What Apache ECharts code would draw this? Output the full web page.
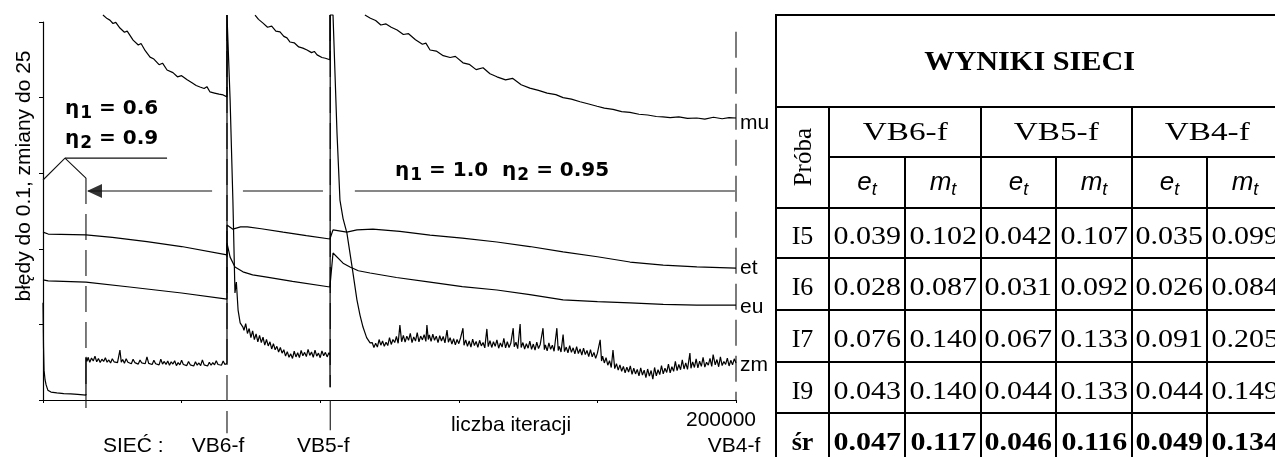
<!DOCTYPE html>
<html><head><meta charset="utf-8">
<script src="https://cdn.jsdelivr.net/npm/echarts@6/dist/echarts.min.js"></script>
<style>
html,body{margin:0;padding:0;background:#fff;overflow:hidden;width:1275px;height:457px}
#chart{position:absolute;left:0;top:0;width:1275px;height:457px}
#tbl{position:absolute;left:0;top:0;width:1275px;height:457px;overflow:hidden;pointer-events:none}
.cell{position:absolute;box-sizing:border-box;border:2px solid #000;display:flex;align-items:center;justify-content:center;font-family:"Liberation Serif","Times New Roman",serif;color:#000;white-space:nowrap}
.cell span{display:inline-block}
</style></head><body>
<div id="chart"></div>
<div id="tbl"></div>
<script>
// ---------------- data ----------------
const xTickValues = [0, 40000, 80000, 120000, 160000, 200000];
const xTickLabels = ['', '', '', '', '', '200000'];
const networkLabels = ['VB6-f', 'VB5-f', 'VB4-f'];
const networkSwitchX = [53100, 82900, 200000];

const mu = [
 [17300,101.85],[18500,100.9],[19300,100.5],[20200,99.6],[21000,99.9],[22200,98.4],[23500,97.3],[24300,97.6],
 [26000,95.2],[27500,93.9],[28300,94.3],[29500,92.4],[30900,90.7],[32000,90.2],[33500,88.7],[34500,89.1],
 [35800,87.3],[37500,86.6],[38800,85.5],[40000,85.8],[41600,84.7],[43000,83.9],[44200,83.2],[45300,82.8],
 [46500,82.4],[47300,82.9],[48200,81.5],[49500,81.2],[50800,80.9],[52000,80.7],[53100,80.2],[53100,101.85],
 [53150,null],
 [61200,101.85],[62200,100.7],[63500,99.7],[64800,98.6],[66000,98.9],[67200,97.6],[68400,97.4],[69500,96.2],
 [70400,95.8],[71300,94.7],[72500,94.5],[73800,93.4],[75000,93.1],[76200,92.6],[77500,91.9],[78300,92.2],
 [79100,91.3],[80500,90.6],[81500,90.4],[82800,90.0],[82800,101.85],
 [82850,null],
 [92900,101.85],[94500,101.0],[96000,100.4],[97500,99.2],[99000,99.5],[100500,98.6],[102200,97.9],[104000,96.7],
 [105500,96.9],[107500,95.3],[109500,94.1],[110500,94.4],[111700,92.6],[113500,92.3],[115500,91.1],[117500,90.6],
 [119000,90.9],[121200,89.2],[123000,88.8],[125000,87.4],[127000,87.9],[129000,86.3],[131000,85.5],[133500,84.7],
 [135500,85.1],[138000,83.4],[140500,82.5],[143000,81.9],[145500,81.2],[148000,80.8],[150100,80.0],[152500,79.6],
 [155000,78.9],[157500,78.3],[159900,77.7],[162000,77.2],[164500,76.9],[167000,76.3],[169400,76.1],[172000,75.6],
 [174500,75.4],[177000,75.0],[178900,74.9],[181000,74.7],[183500,74.9],[186000,74.5],[188700,74.6],[191000,74.3],
 [193500,74.8],[196000,74.4],[198000,74.7],[200000,74.6]
];

const et = [
 [0,44.4],[1500,43.9],[12400,43.7],[20000,43.0],[30000,41.9],[40000,40.6],[53100,38.4],
 [53100,46.3],[54800,45.2],[57000,45.8],[59000,45.8],[63000,45.3],[69300,44.4],[76000,43.5],[82800,42.6],
 [83700,45.0],[87700,44.4],[90600,45.0],[95200,45.2],[103000,44.6],[111700,43.6],[121000,42.8],[131000,41.8],
 [140500,40.6],[150100,39.2],[160000,37.9],[169400,36.5],[179000,35.7],[188700,35.2],[200000,34.9]
];

const eu = [
 [0,31.8],[1500,31.5],[12400,31.2],[25000,29.9],[40000,28.3],[53100,26.7],
 [53100,41.5],[54000,37.8],[55400,35.2],[57700,33.9],[60500,33.1],[64600,32.5],[72000,31.4],[82800,29.9],
 [83700,38.9],[86600,36.2],[88600,35.2],[91000,34.2],[94400,33.6],[102000,32.4],[111700,31.2],[121000,30.0],
 [131000,29.1],[140500,27.9],[150100,26.5],[160000,26.0],[169400,25.7],[179000,25.3],[188700,25.1],[200000,25.1]
];

const zm = [
 [0,25.7],[150,14.0],[300,7.9],[600,5.3],[900,4.0],[1400,2.6],[2300,2.1],[4000,1.9],[6000,1.7],[8000,1.6],[10000,1.5],[12400,1.3],
 [12400,11.4],[12700,10.2],[13000,11.3],[13500,10.0],[14000,11.1],[14500,10.3],[15000,11.6],[15500,10.1],[16000,11.0],
 [16500,9.9],[17000,10.8],[17500,10.2],[18000,11.2],[18500,10.0],[19000,10.6],[19500,9.8],[20000,10.9],[20500,10.1],
 [21000,10.5],[21500,9.9],[22200,13.2],[22600,10.0],[23000,10.7],[23500,9.7],[24000,10.9],[24500,10.0],[25000,10.4],
 [25500,9.6],[26000,10.8],[26500,9.9],[27000,10.3],[27500,9.5],[28000,10.6],[28500,9.8],[29000,10.2],[29500,9.6],
 [30000,11.4],[30500,9.7],[31000,10.1],[31500,9.4],[32000,10.5],[32500,9.6],[33000,10.0],[33500,9.3],[34000,10.8],
 [34500,9.5],[35000,10.2],[35500,9.4],[36000,10.3],[36500,9.2],[37000,10.1],[37500,9.5],[38000,10.4],[38500,9.1],
 [39000,9.9],[39500,9.3],[40000,10.5],[40500,9.4],[41000,9.8],[41500,9.1],[42000,10.2],[42500,9.3],[43000,9.7],
 [43500,9.0],[44000,10.1],[44500,9.2],[45000,9.8],[45500,9.1],[46000,10.6],[46500,9.3],[47000,9.7],[47500,9.0],
 [48000,10.0],[48500,9.2],[49000,9.9],[49500,9.3],[50000,10.4],[50500,9.4],[51000,9.8],[51500,9.2],[52000,10.3],
 [52500,9.4],[53100,9.7],
 [53100,101.85],[53400,101.85],[54000,79.4],[54800,52.9],[55400,28.3],[55800,31.2],[56300,23.8],[56900,20.4],
 [57700,19.3],[58000,18.4],[58500,20.2],[59000,17.6],[59500,18.9],[60000,16.5],[60500,18.3],[61000,16.0],[61500,17.5],
 [62000,15.4],[62500,17.1],[63000,15.2],[63500,16.6],[64000,14.5],[64500,16.0],[65000,14.3],[65500,15.4],[66000,13.5],
 [66500,14.9],[67000,13.3],[67500,14.2],[68000,12.7],[68500,13.9],[69000,12.4],[69500,13.3],[70000,11.6],[70500,12.8],
 [71000,11.3],[71500,12.2],[72000,11.0],[72500,12.9],[73000,11.4],[73500,12.5],[74000,11.2],[74500,13.1],[75000,11.7],
 [75500,12.6],[76000,11.5],[76500,13.4],[77000,11.8],[77500,12.7],[78000,11.3],[78500,13.2],[79000,11.6],[79500,12.4],
 [80000,11.2],[80500,13.0],[81000,11.7],[81500,12.6],[82000,11.4],[82500,12.5],[82800,11.9],[82850,3.4],
 [82900,101.85],[83700,101.85],[84850,70.6],[85700,52.9],[86600,48.0],[87700,44.2],[89200,35.2],[90600,26.5],
 [91500,22.4],[92350,19.3],[93400,16.5],[94400,15.1],
 [95000,15.2],[95500,13.9],[96000,15.0],[96500,14.0],[97000,16.0],[97500,14.5],[98000,15.6],[98500,14.2],[99000,15.3],
 [99500,14.4],[100000,16.5],[100500,14.7],[101000,16.0],[101500,15.2],[102000,16.8],[102500,15.0],[103000,19.8],
 [103500,15.4],[104000,17.1],[104500,15.3],[105000,16.9],[105500,15.8],[106000,17.6],[106500,15.2],[107000,16.7],
 [107500,15.6],[108000,17.8],[108500,15.4],[109000,16.9],[109500,15.9],[110000,17.3],[110500,15.5],[110800,19.8],
 [111200,16.0],[111500,17.2],[112000,15.5],[112500,17.4],[113000,15.8],[113500,16.9],[114000,15.2],[114500,17.0],
 [115000,15.6],[115500,16.8],[116000,15.1],[116600,18.5],[117000,15.3],[117500,16.5],[118000,14.8],[118500,16.2],
 [119000,14.6],[119500,16.0],[120000,14.9],[120500,16.4],[121200,19.0],[121500,14.5],[122000,15.9],[122500,14.2],
 [123000,15.6],[123500,14.0],[124000,16.1],[124500,14.4],[125000,15.5],[125500,13.9],[126000,15.8],[126500,14.3],
 [127000,15.2],[127500,13.8],[128100,18.8],[128500,14.1],[129000,15.7],[129500,13.9],[130000,15.4],[130500,14.2],
 [131000,15.9],[131500,13.7],[132000,15.1],[132500,14.0],[133000,16.3],[133500,13.8],[134000,15.4],[134500,13.9],
 [135000,15.0],[135700,19.0],[136000,14.1],[136500,15.3],[137000,13.6],[137700,20.1],[138000,13.9],[138500,15.2],
 [139000,13.5],[139500,14.9],[140000,13.7],[140500,15.6],[141000,13.4],[141500,14.8],[142000,13.2],[142500,15.3],
 [143000,13.6],[143500,14.7],[144300,19.0],[144700,13.3],[145000,14.6],[145500,13.0],[146000,15.1],[146500,13.4],
 [147000,14.5],[147500,12.9],[148300,19.0],[148700,13.1],[149000,14.2],[149500,12.7],[150100,17.3],[150500,12.8],
 [151000,14.0],[151500,12.5],[152000,14.4],[152500,12.6],[153000,13.8],[153500,12.2],[154000,14.1],[154500,12.3],
 [155000,13.5],[155500,11.9],[156000,13.7],[156500,12.0],[157000,13.1],[157500,11.5],[158000,13.3],[158500,11.4],
 [159000,12.6],[159500,11.0],[160000,12.4],[160800,15.9],[161200,10.3],[161500,11.6],[162000,9.8],[162500,11.2],
 [163000,9.2],[163500,10.4],[164000,8.6],[164500,13.2],[165000,8.3],[165500,9.6],[166000,7.9],[166500,9.3],
 [167000,7.6],[167500,8.9],[168000,7.2],[168500,8.7],[169000,7.4],[169500,9.0],[170000,6.8],[170500,8.4],
 [171000,6.9],[171500,8.1],[172000,6.4],[172500,8.5],[173000,6.6],[173500,7.9],[174000,5.9],[174500,8.2],
 [175000,6.3],[175500,7.8],[176000,5.5],[176500,8.6],[177000,6.4],[177500,8.0],[178000,6.7],[178500,9.1],
 [179000,6.9],[179500,8.4],[180000,7.3],[180500,9.5],[181000,7.2],[181500,8.8],[182000,7.6],[182500,10.2],
 [183000,7.8],[183500,9.4],[184000,8.0],[184500,10.6],[185000,8.2],[185500,9.8],[186000,8.1],[186700,12.4],
 [187000,8.4],[187500,10.1],[188000,8.6],[188500,10.9],[189000,8.5],[189500,10.3],[190000,8.9],[190500,11.3],
 [191000,8.7],[191500,10.0],[192000,9.2],[192500,11.0],[193000,8.9],[193400,12.0],[194000,9.3],[194500,10.7],
 [195000,8.8],[195500,11.4],[196000,9.1],[196500,10.2],[197000,9.4],[197500,11.1],[198000,9.0],[198500,10.5],
 [199000,9.3],[199500,10.9],[200000,9.8]
];

// annotation guide lines (data coordinates)
const etaLine = [[12400,58.7],[12400,-2.1]];
const bracketLine = [[0,58.2],[6350,64.0],[12400,58.7]];
const bracketTop = [[6350,64.0],[35800,64.0]];
const arrowLine = [[48800,55.3],[13000,55.3]];
const arrowHead = [[14860,55.3]];
const arrowRest = [[57700,55.3],[80800,55.3],[85000,null],[90000,55.3],[199700,55.3]];
const vb6Line = [[53100,101.85],[53100,-8.8]];
const vb5LineTop = [[82900,101.85],[82900,3.4]];
const vb5LineBottom = [[82900,0],[82900,-8.0]];
const endLine = [[200000,97.4],[200000,0]];

const yTitle = 'błędy do 0.1, zmiany do 25';
const xTitle = 'liczba iteracji';
const netTitle = 'SIEĆ :';
const eta1Text = ['{a|η}{s|1}{a| = 0.6}', '{a|η}{s|2}{a| = 0.9}'];
const eta2Text = '{a|η}{s|1}{a| = 1.0  η}{s|2}{a| = 0.95}';

// table data
const tableTitle = 'WYNIKI SIECI';
const tableCorner = 'Próba';
const tableNets = ['VB6-f', 'VB5-f', 'VB4-f'];
const tableSub = [['e','t'], ['m','t']];
const tableRowNames = ['I5', 'I6', 'I7', 'I9', 'śr'];
const rowI5 = ['0.039','0.102','0.042','0.107','0.035','0.099'];
const rowI6 = ['0.028','0.087','0.031','0.092','0.026','0.084'];
const rowI7 = ['0.076','0.140','0.067','0.133','0.091','0.205'];
const rowI9 = ['0.043','0.140','0.044','0.133','0.044','0.149'];
const rowSr = ['0.047','0.117','0.046','0.116','0.049','0.134'];

// ---------------- chart ----------------
const F = 'Liberation Sans';
const FB = 'DejaVu Sans';
const chart = echarts.init(document.getElementById('chart'));

function curve(name, data, dy) {
  return {
    type: 'line', name: name, data: data, symbol: 'none', clip: false, silent: true,
    connectNulls: false, animation: false,
    lineStyle: { color: '#000', width: 1.2 },
    endLabel: { show: true, formatter: name, color: '#000', fontFamily: F, fontSize: 21, distance: 4, offset: [0, dy] }
  };
}
function guide(data, type) {
  return {
    type: 'line', data: data, symbol: 'none', clip: false, silent: true, connectNulls: false, animation: false,
    lineStyle: { color: '#111', width: 1.1, type: type }
  };
}
const DASH = [26, 10];

const richStyle = {
  a: { fontFamily: FB, fontWeight: 'bold', fontSize: 20, lineHeight: 20, verticalAlign: 'top', fill: '#000' },
  s: { fontFamily: FB, fontWeight: 'bold', fontSize: 17, lineHeight: 20, padding: [6, 0, 0, 1], verticalAlign: 'top', fill: '#000' }
};

chart.setOption({
  animation: false,
  backgroundColor: '#fff',
  grid: { left: 43, right: 539, top: 22, bottom: 57 },
  xAxis: {
    type: 'value', min: 0, max: 200000, interval: 40000,
    axisLine: { lineStyle: { color: '#000', width: 1.2 } },
    axisTick: { show: true, length: 3, lineStyle: { color: '#000' } },
    axisLabel: {
      color: '#000', fontFamily: F, fontSize: 21, margin: 10, padding: [0, 30, 0, 0],
      showMinLabel: true, showMaxLabel: true,
      formatter: v => { const i = xTickValues.indexOf(v); return i >= 0 ? xTickLabels[i] : ''; }
    },
    splitLine: { show: false }
  },
  yAxis: {
    type: 'value', min: 0, max: 100, interval: 20,
    axisLine: { show: true, lineStyle: { color: '#000', width: 1.2 } },
    axisTick: { show: true, length: 4, lineStyle: { color: '#000' } },
    axisLabel: { show: false },
    splitLine: { show: false }
  },
  series: [
    guide(etaLine, DASH),
    guide(bracketLine, 'solid'),
    guide(bracketTop, 'solid'),
    guide(arrowLine, 'solid'),
    guide(arrowRest, 'solid'),
    guide(vb6Line, DASH),
    guide(vb5LineTop, DASH),
    guide(vb5LineBottom, 'solid'),
    guide(endLine, DASH),
    { type: 'scatter', data: arrowHead, symbol: 'triangle', symbolRotate: 90, symbolSize: [14, 15], clip: false, silent: true,
      itemStyle: { color: '#000' }, animation: false },
    curve('mu', mu, 5),
    curve('et', et, 0),
    curve('eu', eu, 2),
    curve('zm', zm, 2)
  ]
});

const px = v => chart.convertToPixel({ gridIndex: 0 }, [v, 0])[0];
const labelShift = [-9, -7, -2];
const g = [
  { type: 'text', x: 24, y: 176, rotation: Math.PI / 2,
    style: { text: yTitle, fontFamily: F, fontSize: 21, fill: '#000', align: 'center', verticalAlign: 'middle' } },
  { type: 'text', x: 511, y: 425, style: { text: xTitle, fontFamily: F, fontSize: 21, fill: '#000', align: 'center', verticalAlign: 'middle' } },
  { type: 'text', x: 103, y: 446, style: { text: netTitle, fontFamily: F, fontSize: 21, fill: '#000', align: 'left', verticalAlign: 'middle' } },
  { type: 'text', x: 65, y: 99, style: { text: eta1Text[0], rich: richStyle, verticalAlign: 'top' } },
  { type: 'text', x: 65, y: 129, style: { text: eta1Text[1], rich: richStyle, verticalAlign: 'top' } },
  { type: 'text', x: 395, y: 161, style: { text: eta2Text, rich: richStyle, verticalAlign: 'top' } }
];
networkLabels.forEach((t, i) => {
  g.push({ type: 'text', x: px(networkSwitchX[i]) + labelShift[i], y: 446,
    style: { text: t, fontFamily: F, fontSize: 21, fill: '#000', align: 'center', verticalAlign: 'middle' } });
});
chart.setOption({ graphic: g });

// ---------------- table ----------------
const colX = [776, 829, 905, 981, 1056, 1132, 1207, 1283];
const rowY = [15, 107, 157, 208, 258, 310, 362, 413, 465];
const tbl = document.getElementById('tbl');
function cell(c0, c1, r0, r1, inner) {
  const d = document.createElement('div');
  d.className = 'cell';
  d.style.left = (colX[c0] - 1) + 'px';
  d.style.top = (rowY[r0] - 1) + 'px';
  d.style.width = (colX[c1] - colX[c0] + 2) + 'px';
  d.style.height = (rowY[r1] - rowY[r0] + 2) + 'px';
  d.innerHTML = inner;
  tbl.appendChild(d);
}
cell(0, 7, 0, 1, '<span style="font-weight:bold;font-size:28px;transform:scaleX(1.08)">' + tableTitle + '</span>');
cell(0, 1, 1, 3, '<span style="font-size:25px;writing-mode:vertical-rl;transform:rotate(180deg)">' + tableCorner + '</span>');
tableNets.forEach((n, i) => {
  cell(1 + 2 * i, 3 + 2 * i, 1, 2, '<span style="font-size:26px;transform:scaleX(1.28)">' + n + '</span>');
  tableSub.forEach((s, j) => {
    cell(1 + 2 * i + j, 2 + 2 * i + j, 2, 3,
      '<span style="font-family:\'Liberation Sans\',Arial,sans-serif;font-style:italic;font-size:26px">' + s[0] +
      '<sub style="font-size:18px;vertical-align:-5px">' + s[1] + '</sub></span>');
  });
});
[rowI5, rowI6, rowI7, rowI9, rowSr].forEach((row, r) => {
  const bold = r === 4;
  cell(0, 1, 3 + r, 4 + r, '<span style="font-size:26px;padding-top:6px;' + (bold ? 'font-weight:bold;' : '') + '">' + tableRowNames[r] + '</span>');
  row.forEach((v, c) => {
    cell(1 + c, 2 + c, 3 + r, 4 + r, '<span style="font-size:25px;padding-top:6px;transform:scaleX(1.2);' + (bold ? 'font-weight:bold;' : '') + '">' + v + '</span>');
  });
});
</script>
</body></html>
